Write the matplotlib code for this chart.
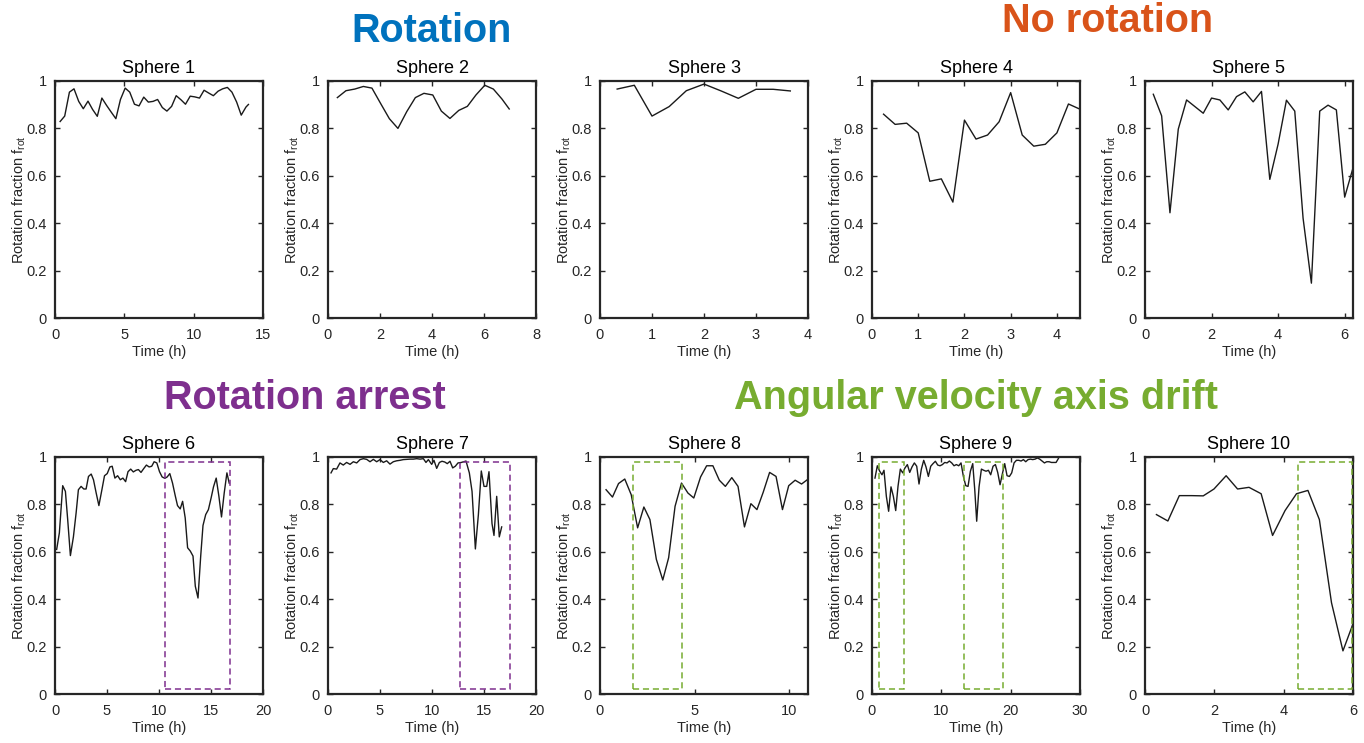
import matplotlib
matplotlib.use("Agg")
import matplotlib.pyplot as plt
from matplotlib.patches import Rectangle

plt.rcParams['font.family'] = ['Liberation Sans', 'DejaVu Sans']

# ---------------- data ----------------
t1 = [0.37, 0.70, 1.04, 1.37, 1.71, 2.04, 2.38, 2.71, 3.05, 3.38, 3.72, 4.05, 4.39, 4.72,
      5.06, 5.39, 5.73, 6.06, 6.40, 6.73, 7.07, 7.40, 7.74, 8.07, 8.41, 8.74, 9.08, 9.41,
      9.75, 10.08, 10.42, 10.75, 11.09, 11.42, 11.76, 12.09, 12.43, 12.76, 13.10, 13.43,
      13.77, 13.95]
f1 = [0.829, 0.852, 0.953, 0.967, 0.914, 0.883, 0.915, 0.880, 0.851, 0.928, 0.897, 0.869,
      0.841, 0.922, 0.970, 0.953, 0.902, 0.895, 0.932, 0.911, 0.914, 0.922, 0.888, 0.873,
      0.893, 0.938, 0.921, 0.902, 0.936, 0.933, 0.928, 0.961, 0.949, 0.938, 0.957, 0.967,
      0.973, 0.953, 0.911, 0.856, 0.890, 0.901]

t2 = [0.36, 0.69, 1.03, 1.36, 1.69, 2.03, 2.36, 2.69, 3.03, 3.36, 3.69, 4.03, 4.36, 4.69,
      5.03, 5.36, 5.69, 6.03, 6.36, 6.69, 6.97]
f2 = [0.930, 0.959, 0.966, 0.977, 0.970, 0.904, 0.841, 0.800, 0.871, 0.930, 0.948, 0.941,
      0.873, 0.842, 0.876, 0.893, 0.941, 0.982, 0.966, 0.924, 0.882]

t3 = [0.33, 0.66, 1.00, 1.33, 1.66, 2.00, 2.33, 2.66, 3.00, 3.33, 3.66]
f3 = [0.966, 0.982, 0.852, 0.892, 0.959, 0.987, 0.958, 0.927, 0.965, 0.965, 0.958]

t4 = [0.25, 0.50, 0.75, 1.00, 1.25, 1.50, 1.75, 2.00, 2.25, 2.50, 2.75, 3.00, 3.25, 3.50,
      3.75, 4.00, 4.25, 4.50]
f4 = [0.860, 0.817, 0.822, 0.781, 0.577, 0.587, 0.489, 0.835, 0.755, 0.772, 0.828, 0.951,
      0.772, 0.725, 0.733, 0.781, 0.903, 0.881]

t5 = [0.25, 0.50, 0.75, 1.00, 1.25, 1.50, 1.75, 2.00, 2.25, 2.50, 2.75, 3.00, 3.25, 3.50,
      3.75, 4.00, 4.25, 4.50, 4.75, 5.00, 5.25, 5.50, 5.75, 6.00, 6.25]
f5 = [0.944, 0.853, 0.444, 0.797, 0.920, 0.892, 0.864, 0.928, 0.920, 0.878, 0.934, 0.954,
      0.912, 0.956, 0.585, 0.734, 0.919, 0.873, 0.421, 0.147, 0.873, 0.898, 0.878, 0.510,
      0.633]

t6 = [0.16, 0.42, 0.74, 1.00, 1.22, 1.48, 1.77, 2.03, 2.25, 2.51, 2.77, 2.99, 3.22, 3.48,
      3.70, 3.96, 4.22, 4.51, 4.76, 5.02, 5.28, 5.50, 5.76, 6.02, 6.28, 6.53, 6.79, 7.02,
      7.28, 7.53, 7.79, 8.02, 8.27, 8.53, 8.79, 9.05, 9.30, 9.53, 9.79, 10.05, 10.30, 10.56,
      10.79, 11.04, 11.30, 11.56, 11.78, 12.04, 12.27, 12.52, 12.75, 13.01, 13.27, 13.49,
      13.75, 14.01, 14.23, 14.49, 14.75, 15.01, 15.24, 15.50, 15.76, 16.01, 16.27, 16.53,
      16.75]
f6 = [0.610, 0.680, 0.879, 0.855, 0.736, 0.584, 0.663, 0.764, 0.862, 0.876, 0.865, 0.865,
      0.918, 0.928, 0.904, 0.848, 0.795, 0.862, 0.921, 0.930, 0.958, 0.961, 0.911, 0.921,
      0.904, 0.911, 0.896, 0.938, 0.949, 0.937, 0.944, 0.947, 0.935, 0.951, 0.966, 0.958,
      0.961, 0.980, 0.975, 0.938, 0.916, 0.910, 0.916, 0.930, 0.890, 0.837, 0.795, 0.781,
      0.813, 0.743, 0.617, 0.603, 0.582, 0.455, 0.405, 0.582, 0.711, 0.757, 0.778, 0.827,
      0.874, 0.911, 0.834, 0.747, 0.848, 0.933, 0.890]

t7 = [0.29, 0.51, 0.83, 1.15, 1.47, 1.79, 2.12, 2.44, 2.76, 3.08, 3.40, 3.72, 4.04, 4.36,
      4.68, 5.00, 5.32, 5.64, 5.96, 6.28, 6.60, 6.92, 7.24, 7.56, 7.88, 8.21, 8.53, 8.85,
      9.17, 9.42, 9.65, 9.97, 10.19, 10.45, 10.71, 10.96, 11.22, 11.47, 11.73, 11.99, 12.24,
      12.50, 12.82, 13.27, 13.59, 13.85, 14.17, 14.46, 14.74, 15.00, 15.26, 15.48, 15.77,
      15.96, 16.22, 16.47, 16.70]
f7 = [0.933, 0.951, 0.949, 0.975, 0.966, 0.977, 0.969, 0.980, 0.975, 0.989, 0.993, 0.990,
      0.980, 0.990, 0.980, 0.989, 0.977, 0.984, 0.970, 0.980, 0.984, 0.986, 0.989, 0.990,
      0.991, 0.991, 0.993, 0.991, 0.993, 0.977, 0.989, 0.969, 0.986, 0.952, 0.977, 0.982,
      0.979, 0.972, 0.982, 0.954, 0.961, 0.975, 0.977, 0.983, 0.933, 0.855, 0.612, 0.757,
      0.941, 0.876, 0.876, 0.938, 0.719, 0.669, 0.834, 0.663, 0.705]

t8 = [0.32, 0.66, 0.98, 1.31, 1.65, 1.99, 2.32, 2.64, 2.98, 3.32, 3.63, 3.97, 4.31, 4.65,
      4.96, 5.32, 5.64, 5.97, 6.31, 6.63, 6.97, 7.30, 7.64, 7.98, 8.30, 8.63, 8.97, 9.31,
      9.65, 9.98, 10.32, 10.66, 10.96]
f8 = [0.862, 0.831, 0.888, 0.907, 0.841, 0.701, 0.789, 0.736, 0.568, 0.481, 0.575, 0.792,
      0.890, 0.848, 0.827, 0.916, 0.963, 0.963, 0.902, 0.876, 0.913, 0.876, 0.705, 0.803,
      0.778, 0.851, 0.935, 0.918, 0.778, 0.879, 0.902, 0.886, 0.904]

t9 = [0.43, 0.77, 1.11, 1.44, 1.73, 2.07, 2.40, 2.74, 3.08, 3.42, 3.75, 4.09, 4.43, 4.76,
      5.10, 5.44, 5.77, 6.11, 6.45, 6.78, 7.12, 7.46, 7.79, 8.13, 8.47, 8.80, 9.14, 9.48,
      9.81, 10.15, 10.49, 10.82, 11.16, 11.50, 11.83, 12.17, 12.51, 12.84, 13.18, 13.52,
      13.85, 14.19, 14.53, 14.82, 15.10, 15.44, 15.78, 16.11, 16.45, 16.79, 17.12, 17.46,
      17.80, 18.13, 18.47, 18.81, 19.14, 19.48, 19.82, 20.15, 20.49, 20.83, 21.16, 21.50,
      21.84, 22.17, 22.51, 22.85, 23.18, 23.52, 23.86, 24.19, 24.53, 24.87, 25.20, 25.54,
      25.88, 26.21, 26.55, 26.89]
f9 = [0.911, 0.963, 0.940, 0.925, 0.944, 0.834, 0.771, 0.874, 0.834, 0.774, 0.876, 0.949,
      0.933, 0.954, 0.968, 0.935, 0.958, 0.975, 0.961, 0.886, 0.949, 0.986, 0.958, 0.918,
      0.961, 0.972, 0.982, 0.966, 0.963, 0.968, 0.977, 0.975, 0.983, 0.975, 0.963, 0.968,
      0.963, 0.975, 0.918, 0.879, 0.876, 0.940, 0.972, 0.862, 0.729, 0.874, 0.949, 0.944,
      0.940, 0.944, 0.925, 0.961, 0.968, 0.935, 0.883, 0.930, 0.972, 0.921, 0.918, 0.933,
      0.975, 0.986, 0.986, 0.983, 0.989, 0.980, 0.989, 0.991, 0.989, 0.991, 0.996, 0.991,
      0.983, 0.975, 0.980, 0.980, 0.977, 0.977, 0.977, 0.994]

t10 = [0.33, 0.66, 0.99, 1.34, 1.68, 1.99, 2.34, 2.67, 3.00, 3.35, 3.68, 4.04, 4.37, 4.70,
       5.03, 5.38, 5.71, 6.02]
f10 = [0.757, 0.730, 0.837, 0.837, 0.836, 0.865, 0.921, 0.865, 0.872, 0.845, 0.669, 0.774,
       0.845, 0.859, 0.736, 0.385, 0.182, 0.304]

times = [t1, t2, t3, t4, t5, t6, t7, t8, t9, t10]
fracs = [f1, f2, f3, f4, f5, f6, f7, f8, f9, f10]
titles = ["Sphere %d" % i for i in range(1, 11)]
xlims = [15, 8, 4, 4.5, 6.25, 20, 20, 11, 30, 6]
xticks = [[0, 5, 10, 15], [0, 2, 4, 6, 8], [0, 1, 2, 3, 4], [0, 1, 2, 3, 4],
          [0, 2, 4, 6], [0, 5, 10, 15, 20], [0, 5, 10, 15, 20], [0, 5, 10],
          [0, 10, 20, 30], [0, 2, 4, 6]]
yticks = [0, 0.2, 0.4, 0.6, 0.8, 1]
ytick_labels = ["0", "0.2", "0.4", "0.6", "0.8", "1"]

# highlighted intervals (start h, end h) per panel index
boxes = {5: [(10.6, 16.8)], 6: [(12.7, 17.5)], 7: [(1.75, 4.35)],
         8: [(1.0, 4.6), (13.3, 18.9)], 9: [(4.4, 5.98)]}
box_y = (0.02, 0.98)

group_labels = ["Rotation", "No rotation", "Rotation arrest", "Angular velocity axis drift"]

# ---------------- styling ----------------
C_BLUE = "#0072BD"
C_ORANGE = "#D95319"
C_PURPLE = "#7E2F8E"
C_GREEN = "#77AC30"
box_colors = {5: C_PURPLE, 6: C_PURPLE, 7: C_GREEN, 8: C_GREEN, 9: C_GREEN}
AX_COL = "#262626"

W, H = 1364, 743
fig = plt.figure(figsize=(W / 100, H / 100), dpi=100)

lefts = [55, 328, 600, 872, 1145]
aw, ah = 208, 237
tops = [81, 457]

for i in range(10):
    r, c = divmod(i, 5)
    l = lefts[c]
    t = tops[r]
    ax = fig.add_axes([l / W, 1 - (t + ah) / H, aw / W, ah / H])
    ax.plot(times[i], fracs[i], color="#1a1a1a", lw=1.0)
    ax.set_xlim(0, xlims[i])
    ax.set_ylim(0, 1)
    ax.set_xticks(xticks[i])
    ax.set_xticklabels([str(v) for v in xticks[i]])
    ax.set_yticks(yticks)
    ax.set_yticklabels(ytick_labels)
    ax.tick_params(direction="in", top=True, right=True, length=3.5, width=1.0,
                   colors=AX_COL, labelsize=10.5, labelcolor=AX_COL)
    ax.tick_params(axis="x", pad=7.5)
    ax.tick_params(axis="y", pad=6)
    for s in ax.spines.values():
        s.set_color(AX_COL)
        s.set_linewidth(1.6)
    ax.set_title(titles[i], fontsize=13, color="#000000", pad=6)
    ax.set_xlabel("Time (h)", fontsize=10.5, color=AX_COL, labelpad=2)
    ax.set_ylabel(r"Rotation fraction f$_{\mathregular{rot}}$", fontsize=10.5,
                  color=AX_COL, labelpad=-1)
    if i in boxes:
        for (a, b) in boxes[i]:
            ax.add_patch(Rectangle((a, box_y[0]), b - a, box_y[1] - box_y[0],
                                   fill=False, edgecolor=box_colors[i], lw=1.1,
                                   linestyle=(0, (4, 2.5)), zorder=3))

fig.text(432 / W, 1 - 31 / H, group_labels[0], color=C_BLUE, fontsize=28.5,
         fontweight="bold", ha="center", va="center")
fig.text(1108 / W, 1 - 21 / H, group_labels[1], color=C_ORANGE, fontsize=28.5,
         fontweight="bold", ha="center", va="center")
fig.text(305 / W, 1 - 398 / H, group_labels[2], color=C_PURPLE, fontsize=28.5,
         fontweight="bold", ha="center", va="center")
fig.text(976 / W, 1 - 398 / H, group_labels[3], color=C_GREEN, fontsize=28.5,
         fontweight="bold", ha="center", va="center")

fig.savefig("out.png", dpi=100)
